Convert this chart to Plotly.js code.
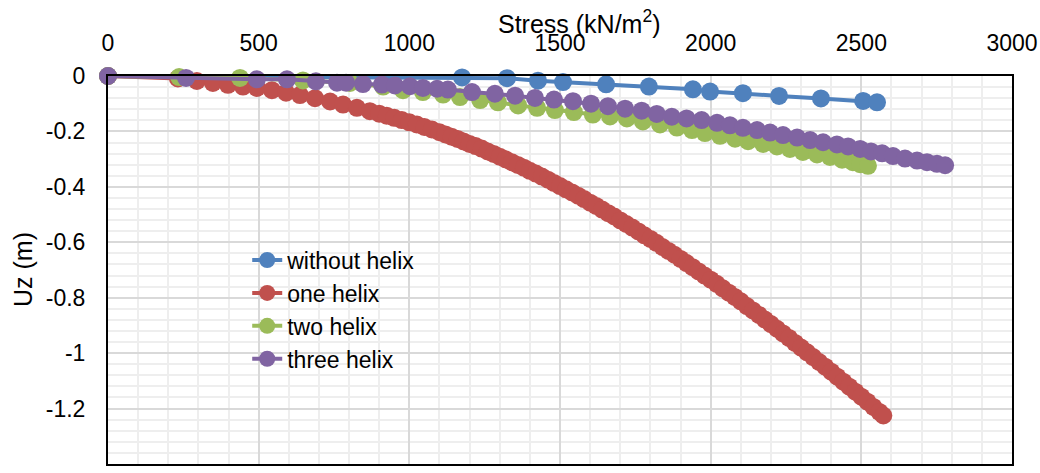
<!DOCTYPE html>
<html>
<head>
<meta charset="utf-8">
<script src="https://cdn.plot.ly/plotly-3.0.1.min.js"></script>
<style>
  html, body { margin: 0; padding: 0; background: #ffffff; }
  #chart { width: 1040px; height: 473px; }
</style>
</head>
<body>
<div id="chart"></div>
<script>
// Pile head settlement Uz (m) against applied stress (kN/m2)

const seriesNames = ['without helix', 'one helix', 'two helix', 'three helix'];
const seriesColors = ['#4F81BD', '#C0504D', '#9BBB59', '#8064A2'];

// without helix
const noHelixStress = [0, 1175, 1324, 1427, 1510, 1653, 1795, 1941, 1998, 2107, 2227, 2366, 2506, 2552];
const noHelixUz = [0, -0.005, -0.008, -0.017, -0.022, -0.030, -0.038, -0.048, -0.056, -0.062, -0.072, -0.081, -0.090, -0.095];

// one helix
const oneHelixStress = [
  0, 232, 295, 348, 398, 448, 494, 544, 591, 637, 687, 737, 780, 826, 869,
  900, 925, 950, 975, 1000, 1025, 1050, 1075, 1100,
  1120, 1140, 1160, 1180, 1200, 1220, 1240, 1260, 1280, 1300,
  1320, 1340, 1360, 1380, 1400, 1420, 1440, 1460, 1480, 1500,
  1520, 1540, 1560, 1580, 1600, 1620, 1640, 1660, 1680, 1700,
  1720, 1740, 1760, 1780, 1800, 1820, 1840, 1860, 1880, 1900,
  1920, 1940, 1960, 1980, 2000, 2020, 2040, 2060, 2080, 2100,
  2120, 2140, 2160, 2180, 2200, 2220, 2240, 2260, 2280, 2300,
  2320, 2340, 2360, 2380, 2400, 2420, 2440, 2460, 2480, 2500,
  2520, 2540, 2560, 2573
];
const oneHelixUz = [
  0, -0.009, -0.018, -0.025, -0.032, -0.038, -0.043, -0.051, -0.060, -0.069, -0.080, -0.092, -0.103, -0.115, -0.127,
  -0.136, -0.143, -0.151, -0.159, -0.167, -0.175, -0.184, -0.193, -0.203,
  -0.211, -0.219, -0.227, -0.236, -0.245, -0.253, -0.262, -0.272, -0.281, -0.291,
  -0.301, -0.311, -0.321, -0.331, -0.342, -0.352, -0.363, -0.374, -0.386, -0.397,
  -0.409, -0.420, -0.432, -0.444, -0.457, -0.469, -0.482, -0.495, -0.507, -0.521,
  -0.534, -0.547, -0.561, -0.575, -0.588, -0.602, -0.617, -0.631, -0.645, -0.660,
  -0.675, -0.690, -0.705, -0.720, -0.735, -0.750, -0.766, -0.782, -0.797, -0.813,
  -0.830, -0.846, -0.862, -0.879, -0.895, -0.912, -0.929, -0.945, -0.963, -0.980,
  -0.997, -1.014, -1.032, -1.049, -1.067, -1.085, -1.103, -1.121, -1.139, -1.157,
  -1.175, -1.194, -1.212, -1.225
];

// two helix
const twoHelixStress = [
  0, 236, 438, 647, 803, 913, 979, 1045, 1112, 1168, 1235, 1294, 1361, 1424, 1483,
  1546, 1609, 1666, 1722, 1775, 1832, 1888, 1938, 1981, 2031, 2081, 2124, 2174,
  2220, 2263, 2306, 2353, 2396, 2436, 2472, 2496, 2522
];
const twoHelixUz = [
  0, -0.004, -0.007, -0.016, -0.025, -0.038, -0.051, -0.058, -0.067, -0.076, -0.087, -0.095, -0.106, -0.115, -0.123,
  -0.130, -0.139, -0.146, -0.153, -0.164, -0.175, -0.186, -0.195, -0.206, -0.216, -0.226, -0.235, -0.245,
  -0.254, -0.263, -0.274, -0.283, -0.292, -0.302, -0.311, -0.318, -0.324
];

// three helix
const threeHelixStress = [
  0, 259, 494, 594, 690, 760, 790, 846, 909, 952, 1002, 1045, 1092, 1128, 1208,
  1284, 1351, 1417, 1480, 1543, 1603, 1659, 1716, 1771, 1821, 1871, 1920, 1970,
  2021, 2064, 2107, 2154, 2197, 2240, 2287, 2330, 2373, 2419, 2456, 2496, 2532,
  2569, 2605, 2645, 2685, 2718, 2751, 2778
];
const threeHelixUz = [
  0, -0.007, -0.012, -0.012, -0.019, -0.024, -0.024, -0.029, -0.031, -0.034, -0.037, -0.043, -0.046, -0.049, -0.058,
  -0.064, -0.071, -0.079, -0.085, -0.091, -0.100, -0.109, -0.118, -0.125, -0.137, -0.147, -0.153, -0.159,
  -0.169, -0.178, -0.187, -0.195, -0.204, -0.213, -0.222, -0.231, -0.239, -0.247, -0.254, -0.263, -0.272,
  -0.279, -0.289, -0.298, -0.305, -0.311, -0.317, -0.322
];

// axis ticks
const stressTicks = [0, 500, 1000, 1500, 2000, 2500, 3000];
const stressTickText = ['0', '500', '1000', '1500', '2000', '2500', '3000'];
const uzTicks = [0, -0.2, -0.4, -0.6, -0.8, -1, -1.2, -1.4];
const uzTickText = ['0', '-0.2', '-0.4', '-0.6', '-0.8', '-1', '-1.2', '-1.4'];

const xTitle = 'Stress (kN/m<sup>2</sup>)';
const yTitle = 'Uz (m)';

const FONT = '"Liberation Sans", Arial, sans-serif';

const xs = [noHelixStress, oneHelixStress, twoHelixStress, threeHelixStress];
const ys = [noHelixUz, oneHelixUz, twoHelixUz, threeHelixUz];

const traces = seriesNames.map((name, i) => ({
  type: 'scatter',
  mode: 'lines+markers',
  name: name,
  x: xs[i],
  y: ys[i],
  cliponaxis: false,
  line: { color: seriesColors[i], width: 4 },
  marker: { color: seriesColors[i], size: 18 }
}));

const layout = {
  width: 1040,
  height: 473,
  margin: { l: 108, r: 28, t: 76, b: 9, pad: 0 },
  paper_bgcolor: '#ffffff',
  plot_bgcolor: '#ffffff',
  font: { family: FONT, size: 23, color: '#000000' },
  showlegend: true,
  legend: {
    x: 0.154, y: 0.581, xanchor: 'left', yanchor: 'top',
    bgcolor: 'rgba(0,0,0,0)', borderwidth: 0,
    font: { family: FONT, size: 23, color: '#000000' }
  },
  xaxis: {
    side: 'top',
    range: [0, 3000],
    tickmode: 'array',
    tickvals: stressTicks,
    ticktext: stressTickText,
    ticks: '',
    ticklabelstandoff: 14,
    showgrid: true,
    gridcolor: '#d9d9d9',
    gridwidth: 2,
    minor: { tickmode: 'linear', tick0: 0, dtick: 100, showgrid: true, gridcolor: '#eeeeee', gridwidth: 2, ticks: '' },
    zeroline: false,
    showline: true,
    linecolor: '#000000',
    linewidth: 2,
    mirror: true,
    tickfont: { family: FONT, size: 23, color: '#000000' }
  },
  yaxis: {
    range: [-1.4, 0],
    tickmode: 'array',
    tickvals: uzTicks,
    ticktext: uzTickText,
    ticks: '',
    ticklabelstandoff: 16,
    showgrid: true,
    gridcolor: '#d9d9d9',
    gridwidth: 2,
    minor: { tickmode: 'linear', tick0: 0, dtick: 0.04, showgrid: true, gridcolor: '#eeeeee', gridwidth: 2, ticks: '' },
    zeroline: false,
    showline: true,
    linecolor: '#000000',
    linewidth: 2,
    mirror: true,
    tickfont: { family: FONT, size: 23, color: '#000000' }
  },
  annotations: [
    {
      text: xTitle, xref: 'paper', yref: 'paper',
      x: 0.522, y: 1.139, xanchor: 'center', yanchor: 'middle',
      showarrow: false, font: { family: FONT, size: 25, color: '#000000' }
    },
    {
      text: yTitle, xref: 'paper', yref: 'paper',
      x: -0.094, y: 0.5, xanchor: 'center', yanchor: 'middle',
      textangle: -90,
      showarrow: false, font: { family: FONT, size: 25, color: '#000000' }
    }
  ]
};

Plotly.newPlot('chart', traces, layout, { displayModeBar: false, staticPlot: true });
</script>
</body>
</html>
